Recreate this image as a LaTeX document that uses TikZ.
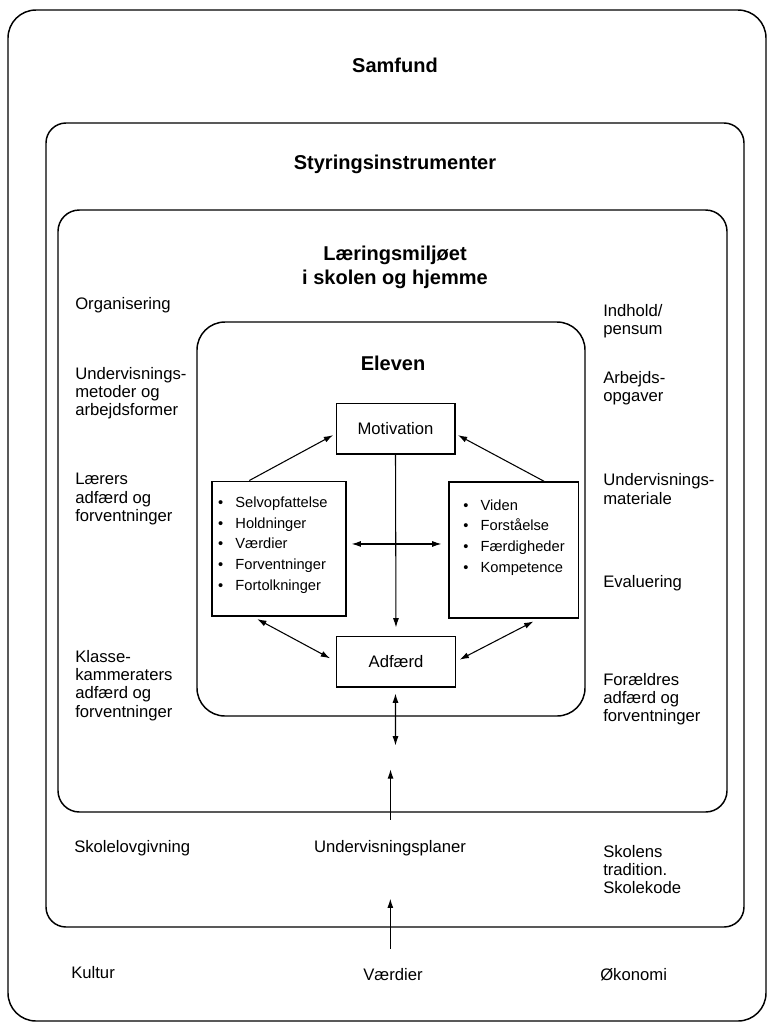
\documentclass[tikz,border=0pt]{standalone}
\usepackage{fontspec}
\setmainfont{Liberation Sans}
\usepackage{tikz}
\usetikzlibrary{arrows.meta, positioning, calc}
\tikzstyle{frame} = [draw, line width=1.1pt]
\tikzstyle{title} = [inner sep=0pt, align=center, font=\fontsize{15}{18}\selectfont\bfseries]
\tikzstyle{factor} = [inner sep=0pt, align=left, anchor=west, font=\fontsize{12.5}{13.6}\selectfont]
\tikzstyle{stagebox} = [rectangle, draw, line width=1pt, minimum width=89pt, minimum height=38pt, font=\fontsize{12.5}{14}\selectfont]
\tikzstyle{listbox} = [rectangle, draw, line width=1pt]
\tikzstyle{listtext} = [inner sep=0pt, align=left, anchor=north west, font=\fontsize{11}{15.5}\selectfont]
\tikzstyle{arrow} = [line width=0.8pt, -{Latex[length=7pt,width=4.5pt]}]
\tikzstyle{darrow} = [line width=0.8pt, {Latex[length=7pt,width=4.5pt]}-{Latex[length=7pt,width=4.5pt]}]
\newcommand{\itm}{\makebox[13pt][l]{\textbullet}}

\begin{document}
\begin{tikzpicture}[x=0.75pt, y=-0.75pt]
    \useasboundingbox (0,0) rectangle (770,1026);

    % Frames
    \draw[frame, rounded corners=21pt] (8,10) rectangle (766,1021);
    \draw[frame, rounded corners=15pt] (46,123) rectangle (744,927);
    \draw[frame, rounded corners=16pt] (58,210) rectangle (727,812);
    \draw[frame, rounded corners=21pt] (197,322) rectangle (585,716);

    % Titles
    \node[title] (samfund) at (395,65) {Samfund};
    \node[title] (styring) at (395,164) {Styringsinstrumenter};
    \node[title] (miljo) at (395,267) {Læringsmiljøet\\i skolen og hjemme};
    \node[title] (eleven) at (393,363) {Eleven};

    % Left column
    \node[factor] (organ) at (75,305) {Organisering};
    \node[factor] (metoder) at (75,393.5) {Undervisnings-\\metoder og\\arbejdsformer};
    \node[factor] (laerer) at (75,499) {Lærers\\adfærd og\\forventninger};
    \node[factor] (klasse) at (75,685.5) {Klasse-\\kammeraters\\adfærd og\\forventninger};

    % Right column
    \node[factor] (indhold) at (603,321) {Indhold/\\pensum};
    \node[factor] (opgaver) at (603,388.5) {Arbejds-\\opgaver};
    \node[factor] (materiale) at (603,489) {Undervisnings-\\materiale};
    \node[factor] (evaluering) at (603,583) {Evaluering};
    \node[factor] (foraeldre) at (603,699) {Forældres\\adfærd og\\forventninger};

    % Bottom rows
    \node[factor] (lov) at (74,848) {Skolelovgivning};
    \node[factor, anchor=center] (plan) at (390,848) {Undervisningsplaner};
    \node[factor] (tradition) at (603,869.5) {Skolens\\tradition.\\Skolekode};
    \node[factor] (kultur) at (71,973) {Kultur};
    \node[factor, anchor=center] (vaerdier) at (393,975) {Værdier};
    \node[factor] (okonomi) at (600,975) {Økonomi};

    % Eleven
    \node[stagebox] (motiv) at (395.5,428.5) {Motivation};
    \node[stagebox] (adfaerd) at (396,661.5) {Adfærd};
    \node[listbox, minimum width=100.5pt, minimum height=101pt] (selv) at (279,548.5) {};
    \node[listbox, minimum width=97pt, minimum height=102pt] (viden) at (513.5,550) {};
    \node[listtext] (selvlist) at ([xshift=4.9pt,yshift=-12pt]selv.north west)
        {\itm Selvopfattelse\\\itm Holdninger\\\itm Værdier\\\itm Forventninger\\\itm Fortolkninger};
    \node[listtext] (videnlist) at ([xshift=11.2pt,yshift=-13.5pt]viden.north west)
        {\itm Viden\\\itm Forståelse\\\itm Færdigheder\\\itm Kompetence};

    % Connectors
    \draw[arrow, shorten >=2pt] ([xshift=28.5pt]selv.north west) -- ([yshift=-4pt]motiv.west);
    \draw[arrow, shorten >=2pt] ([xshift=-26pt]viden.north east) -- ([yshift=-4pt]motiv.east);
    \draw[arrow, shorten >=6pt] (motiv.south) -- (adfaerd.north);
    \draw[darrow, shorten <=3.7pt, shorten >=5pt] ([yshift=3.4pt]selv.east) -- ([yshift=3.4pt]selv.east -| viden.west);
    \draw[darrow, shorten <=4pt, shorten >=5pt] ([xshift=30.8pt]selv.south west) -- (adfaerd.west);
    \draw[darrow, shorten <=4.5pt, shorten >=3pt] ([xshift=-30pt]viden.south east) -- (adfaerd.east);
    \coordinate (elevlink) at ($(adfaerd.south)+(-0.5,58)$);
    \draw[darrow, shorten <=4.5pt] ([xshift=-0.4pt]adfaerd.south) -- (elevlink);
    \draw[arrow] ([xshift=0.4pt,yshift=15pt]plan.north) -- ([xshift=0.4pt,yshift=53pt]plan.north);
    \draw[arrow] ([xshift=-2pt,yshift=15pt]vaerdier.north) -- ([xshift=-2pt,yshift=52.5pt]vaerdier.north);
\end{tikzpicture}
\end{document}
